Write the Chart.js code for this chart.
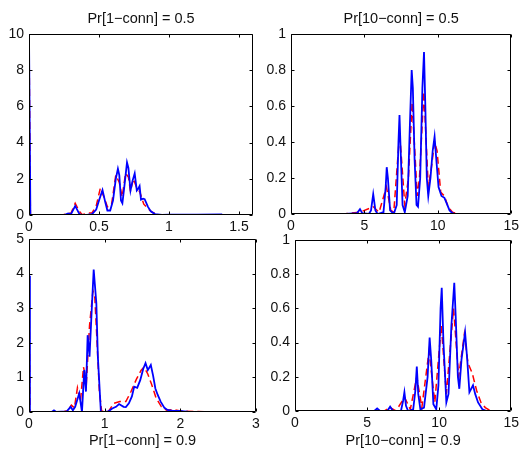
<!DOCTYPE html>
<html><head><meta charset="utf-8">
<script src="https://cdn.jsdelivr.net/npm/chart.js@4.4.1/dist/chart.umd.min.js"></script>
<style>
html,body{margin:0;padding:0;background:#fff;}
#wrap{position:relative;width:523px;height:450px;overflow:hidden;}
canvas{position:absolute;left:0;top:0;}
</style></head><body>
<div id="wrap">
<canvas id="c1" width="523" height="450"></canvas>
<canvas id="c2" width="523" height="450"></canvas>
<canvas id="c3" width="523" height="450"></canvas>
<canvas id="c4" width="523" height="450"></canvas>
</div>
<script>
// ---------- titles ----------
const title1 = "Pr[1\u2212conn] = 0.5";
const title2 = "Pr[10\u2212conn] = 0.5";
const title3 = "Pr[1\u2212conn] = 0.9";
const title4 = "Pr[10\u2212conn] = 0.9";

// ---------- tick labels ----------
const p1XTicks = [0, 0.5, 1, 1.5];
const p1YTicks = [0, 2, 4, 6, 8, 10];
const p2XTicks = [0, 5, 10, 15];
const p2YTicks = [0, 0.2, 0.4, 0.6, 0.8, 1];
const p3XTicks = [0, 1, 2, 3];
const p3YTicks = [0, 1, 2, 3, 4, 5];
const p4XTicks = [0, 5, 10, 15];
const p4YTicks = [0, 0.2, 0.4, 0.6, 0.8, 1];

// ---------- panel 1: Pr[1-conn] = 0.5 ----------
const p1BlueX = [0, 0.01, 0.25, 0.28, 0.30, 0.33, 0.36, 0.38, 0.42, 0.45, 0.48, 0.50, 0.525, 0.545, 0.56, 0.58, 0.60, 0.62, 0.635, 0.645, 0.657, 0.667, 0.68, 0.70, 0.71, 0.725, 0.74, 0.755, 0.77, 0.78, 0.79, 0.80, 0.815, 0.826, 0.85, 0.87, 0.90, 0.95, 1.0, 1.2, 1.38];
const p1BlueY = [10, 0, 0, 0.08, 0.05, 0.5, 0.05, 0, 0.02, 0.05, 0.3, 0.8, 1.38, 0.7, 0.25, 0.25, 0.8, 2.0, 2.55, 2.2, 0.8, 0.65, 1.5, 2.9, 2.6, 1.35, 1.9, 2.3, 1.35, 1.45, 1.6, 0.85, 0.9, 0.87, 0.45, 0.2, 0.05, 0, 0.02, 0.02, 0.03];
const p1RedX = [0, 0.01, 0.24, 0.27, 0.30, 0.33, 0.36, 0.38, 0.42, 0.45, 0.48, 0.51, 0.54, 0.56, 0.59, 0.62, 0.645, 0.665, 0.69, 0.71, 0.725, 0.745, 0.77, 0.79, 0.82, 0.85, 0.88, 0.92, 1.0, 1.38];
const p1RedY = [10, 0, 0, 0.08, 0.1, 0.65, 0.2, 0.02, 0.1, 0.12, 0.5, 1.5, 0.9, 0.45, 0.6, 2.2, 1.8, 1.0, 2.3, 2.1, 1.3, 2.0, 1.5, 1.3, 0.6, 0.35, 0.15, 0.02, 0.01, 0.02];

// ---------- panel 2: Pr[10-conn] = 0.5 ----------
const p2BlueX = [3.7, 4.5, 4.7, 4.85, 5.3, 5.45, 5.6, 5.75, 5.9, 6.3, 6.45, 6.52, 6.6, 6.75, 7.0, 7.2, 7.32, 7.39, 7.47, 7.6, 7.75, 7.95, 8.1, 8.22, 8.3, 8.42, 8.55, 8.65, 8.8, 8.95, 9.06, 9.15, 9.25, 9.35, 9.5, 9.65, 9.78, 9.9, 10.05, 10.25, 10.45, 10.6, 10.8, 11.0, 11.2];
const p2BlueY = [0, 0.005, 0.027, 0.005, 0, 0.02, 0.11, 0.02, 0, 0.01, 0.15, 0.26, 0.2, 0.02, 0, 0.05, 0.4, 0.55, 0.35, 0.05, 0.01, 0.1, 0.5, 0.8, 0.7, 0.3, 0.05, 0.04, 0.2, 0.7, 0.9, 0.6, 0.2, 0.1, 0.2, 0.35, 0.43, 0.3, 0.15, 0.1, 0.09, 0.06, 0.02, 0.005, 0];
const p2RedX = [1.9, 3.5, 4.7, 5.6, 6.0, 6.5, 6.8, 7.0, 7.4, 7.75, 8.0, 8.25, 8.6, 8.75, 9.05, 9.35, 9.55, 9.78, 9.95, 10.2, 10.45, 10.7, 11.0, 11.4];
const p2RedY = [0, 0, 0.01, 0.04, 0.01, 0.15, 0.02, 0.01, 0.45, 0.05, 0.2, 0.62, 0.1, 0.2, 0.68, 0.15, 0.25, 0.4, 0.35, 0.12, 0.1, 0.04, 0.01, 0];

// ---------- panel 3: Pr[1-conn] = 0.9 ----------
const p3BlueX = [0, 0.012, 0.3, 0.33, 0.36, 0.5, 0.55, 0.58, 0.61, 0.664, 0.70, 0.73, 0.753, 0.775, 0.80, 0.83, 0.855, 0.87, 0.89, 0.91, 0.95, 1.0, 1.05, 1.1, 1.15, 1.19, 1.25, 1.28, 1.32, 1.36, 1.39, 1.43, 1.47, 1.51, 1.54, 1.57, 1.61, 1.64, 1.67, 1.70, 1.74, 1.79, 1.83, 1.9, 2.0, 2.05, 2.1, 2.3];
const p3BlueY = [3.94, 0, 0, 0.05, 0, 0.02, 0.15, 0.05, 0.15, 0.54, 0, 1.21, 0.59, 2.22, 1.6, 3.0, 4.12, 3.7, 3.14, 1.6, 0, 0, 0.02, 0.1, 0.15, 0.23, 0.15, 0.14, 0.25, 0.45, 0.73, 0.7, 0.92, 1.25, 1.41, 1.21, 1.36, 1.05, 0.68, 0.5, 0.3, 0.12, 0.06, 0.03, 0.03, 0.02, 0.01, 0];
const p3RedX = [0, 0.012, 0.45, 0.52, 0.56, 0.60, 0.64, 0.68, 0.72, 0.76, 0.80, 0.845, 0.87, 0.90, 0.93, 0.96, 1.05, 1.12, 1.2, 1.28, 1.35, 1.42, 1.48, 1.52, 1.57, 1.62, 1.68, 1.75, 1.82, 1.9, 2.0, 2.4];
const p3RedY = [3.9, 0, 0, 0.05, 0.2, 0.12, 0.7, 0.3, 1.3, 0.9, 2.5, 3.5, 3.3, 2.0, 0.6, 0.02, 0.02, 0.25, 0.3, 0.3, 0.6, 0.95, 1.2, 1.3, 1.1, 0.8, 0.4, 0.15, 0.05, 0.07, 0.03, 0];

// ---------- panel 4: Pr[10-conn] = 0.9 ----------
const p4BlueX = [2.9, 5.5, 5.7, 5.9, 6.4, 6.6, 6.8, 7.35, 7.5, 7.59, 7.7, 7.85, 8.2, 8.35, 8.45, 8.55, 8.7, 8.95, 9.2, 9.34, 9.45, 9.6, 9.8, 9.95, 10.1, 10.18, 10.3, 10.5, 10.65, 10.85, 11.05, 11.15, 11.3, 11.4, 11.55, 11.8, 11.95, 12.1, 12.35, 12.5, 12.7, 13.0, 13.3];
const p4BlueY = [0, 0, 0.015, 0, 0, 0.025, 0, 0, 0.06, 0.11, 0.03, 0, 0.01, 0.12, 0.26, 0.1, 0.01, 0.02, 0.2, 0.43, 0.3, 0.04, 0.01, 0.15, 0.6, 0.72, 0.4, 0.05, 0.1, 0.5, 0.75, 0.55, 0.2, 0.13, 0.3, 0.46, 0.3, 0.11, 0.15, 0.1, 0.05, 0.01, 0];
const p4RedX = [2.9, 6.2, 6.6, 7.0, 7.6, 8.0, 8.45, 8.8, 9.3, 9.7, 10.15, 10.5, 11.0, 11.35, 11.75, 12.0, 12.3, 12.6, 12.9, 13.2, 13.6];
const p4RedY = [0, 0, 0.02, 0, 0.08, 0.01, 0.2, 0.02, 0.35, 0.05, 0.5, 0.1, 0.6, 0.2, 0.45, 0.28, 0.22, 0.12, 0.05, 0.02, 0];

// ---------- helpers ----------
const FONT = "'Liberation Sans', Arial, Helvetica, sans-serif";
Chart.defaults.font.family = FONT;
Chart.defaults.font.size = 14;
Chart.defaults.color = '#111';

const toPts = (xs, ys) => xs.map((x, i) => ({x: x, y: ys[i]}));

const boxTicks = {
  id: 'boxTicks',
  afterDatasetsDraw(chart) {
    const {ctx, chartArea: {left, right, top, bottom}, scales: {x, y}} = chart;
    const L = Math.round(left) + 0.5, R = Math.round(right) - 0.5;
    const T = Math.round(top) + 0.5, B = Math.round(bottom) - 0.5;
    const tl = 3;
    ctx.save();
    ctx.strokeStyle = '#000';
    ctx.lineWidth = 1;
    ctx.beginPath();
    ctx.rect(L, T, R - L, B - T);
    x.ticks.forEach(t => {
      const px = Math.round(x.getPixelForValue(t.value)) + 0.5;
      ctx.moveTo(px, B); ctx.lineTo(px, B - tl);
      ctx.moveTo(px, T); ctx.lineTo(px, T + tl);
    });
    y.ticks.forEach(t => {
      const py = Math.round(y.getPixelForValue(t.value)) + 0.5;
      ctx.moveTo(L, py); ctx.lineTo(L + tl, py);
      ctx.moveTo(R, py); ctx.lineTo(R - tl, py);
    });
    ctx.stroke();
    ctx.restore();
  }
};

function makePanel(id, area, xMax, yMax, xTicks, yTicks, blue, red, topTitle, bottomTitle) {
  const W = 523, H = 450;
  const xh = bottomTitle ? (H - area.b) : 22;
  const scales = {
    x: {
      type: 'linear', position: 'bottom', min: 0, max: xMax,
      grid: {display: false, drawTicks: false},
      border: {display: false},
      afterBuildTicks: s => { s.ticks = xTicks.map(v => ({value: v})); },
      afterFit: s => { s.height = xh; },
      ticks: {padding: 4, maxRotation: 0, autoSkip: false, callback: v => String(v), color: '#111'},
      title: bottomTitle ? {display: true, text: bottomTitle, color: '#111', font: {size: 14.5}, padding: {top: 0, bottom: 0}} : {display: false}
    },
    y: {
      type: 'linear', position: 'left', min: 0, max: yMax,
      grid: {display: false, drawTicks: false},
      border: {display: false},
      afterBuildTicks: s => { s.ticks = yTicks.map(v => ({value: v})); },
      afterFit: s => { s.width = area.l; },
      ticks: {padding: 5, autoSkip: false, callback: v => String(v), color: '#111'}
    }
  };
  if (topTitle) {
    scales.xTop = {
      type: 'linear', position: 'top', axis: 'x', min: 0, max: xMax,
      grid: {display: false, drawTicks: false},
      border: {display: false},
      ticks: {display: false},
      afterFit: s => { s.height = area.t; },
      title: {display: true, text: topTitle, color: '#111', font: {size: 14.5}, padding: {top: 10, bottom: 0}}
    };
  }
  return new Chart(document.getElementById(id), {
    type: 'line',
    data: {
      datasets: [
        {data: toPts(blue[0], blue[1]), borderColor: '#0000ff', borderWidth: 1.8, pointRadius: 0, tension: 0, fill: false, order: 0},
        {data: toPts(red[0], red[1]), borderColor: '#ff0000', borderWidth: 1.5, borderDash: [7, 4], pointRadius: 0, tension: 0, fill: false, order: 1}
      ]
    },
    options: {
      responsive: false, animation: false, devicePixelRatio: 1,
      layout: {padding: {left: 0, top: topTitle ? 0 : area.t, right: W - area.r, bottom: H - area.b - xh}},
      plugins: {legend: {display: false}, tooltip: {enabled: false}, title: {display: false}},
      scales: scales
    },
    plugins: [boxTicks]
  });
}

makePanel('c1', {l: 29, t: 34, r: 253, b: 215}, 1.6, 10, p1XTicks, p1YTicks, [p1BlueX, p1BlueY], [p1RedX, p1RedY], title1, null);
makePanel('c2', {l: 291, t: 34, r: 513, b: 214}, 15, 1, p2XTicks, p2YTicks, [p2BlueX, p2BlueY], [p2RedX, p2RedY], title2, null);
makePanel('c3', {l: 29, t: 239, r: 256, b: 412}, 3, 5, p3XTicks, p3YTicks, [p3BlueX, p3BlueY], [p3RedX, p3RedY], null, title3);
makePanel('c4', {l: 295, t: 240, r: 514, b: 411}, 15, 1, p4XTicks, p4YTicks, [p4BlueX, p4BlueY], [p4RedX, p4RedY], null, title4);
</script>
</body></html>
